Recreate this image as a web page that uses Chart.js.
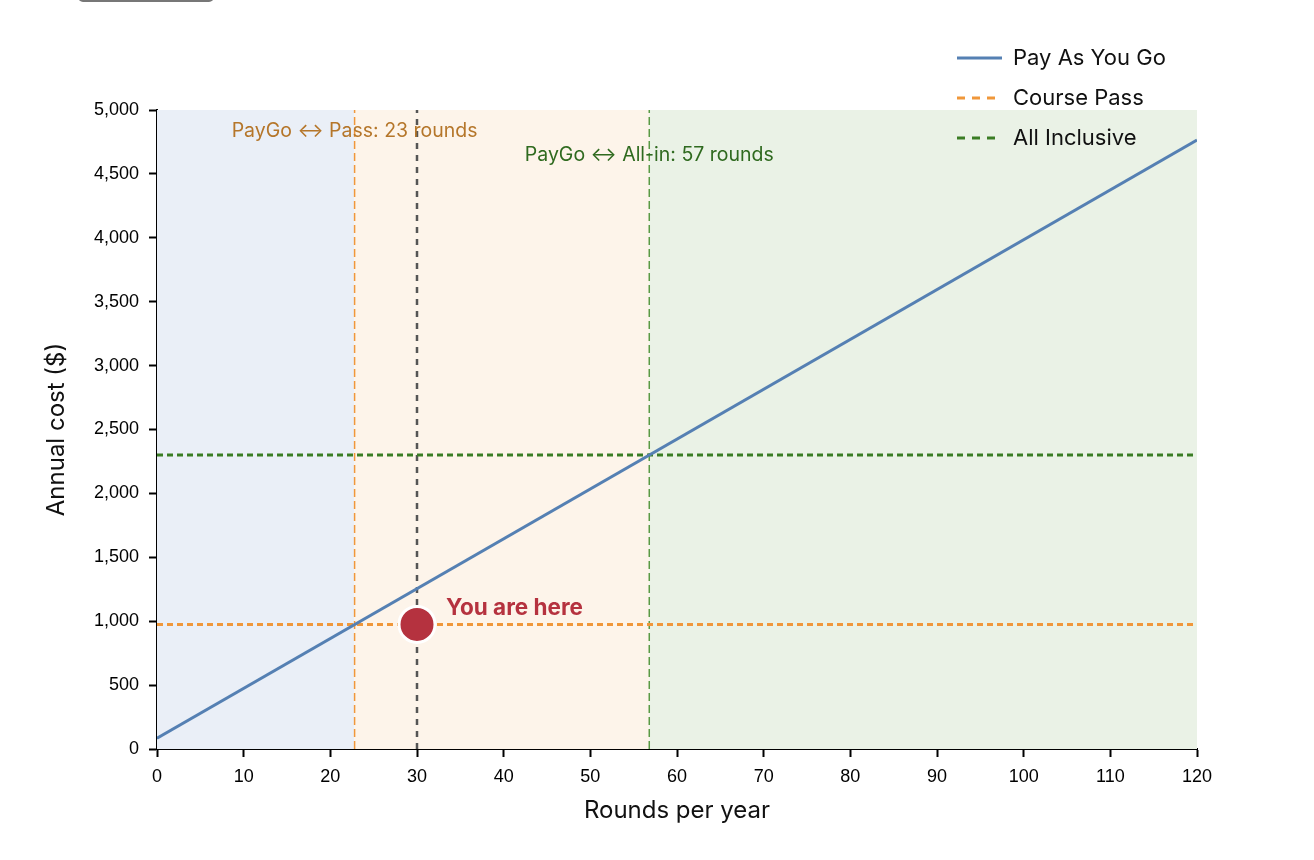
<!DOCTYPE html>
<html>
<head>
<meta charset="utf-8">
<script src="https://cdn.jsdelivr.net/npm/chart.js@4.4.1/dist/chart.umd.min.js"></script>
<style>
    html, body { margin: 0; padding: 0; background: #fff; overflow: hidden; }
    #wrap { position: relative; width: 1314px; height: 860px; }
    #btn { position: absolute; left: 78px; top: -30px; width: 132px; height: 28px;
           border: 2px solid #777; border-radius: 5px; background: #fff; }
</style>
</head>
<body>
<div id="wrap">
    <canvas id="costChart" width="1314" height="860"></canvas>
    <div id="btn"></div>
</div>
<script>
// chart values
const rounds = [0, 120];
const payGoCost = [85, 4765];
const passCost = [975, 975];
const allInCost = [2300, 2300];
const passBreakeven = 22.8;
const allInBreakeven = 56.8;
const youRounds = 30;
const youCost = 975;
const bandEdges = [0, 22.8, 56.8, 120];
const bandColors = ["#eaeff7", "#fdf4ea", "#eaf2e6"];
const xTicks = [0, 10, 20, 30, 40, 50, 60, 70, 80, 90, 100, 110, 120];
const yTicks = [0, 500, 1000, 1500, 2000, 2500, 3000, 3500, 4000, 4500, 5000];
const seriesNames = ["Pay As You Go", "Course Pass", "All Inclusive"];
const passLabel = "PayGo \u2194 Pass: 23 rounds";
const allInLabel = "PayGo \u2194 All-in: 57 rounds";
const youLabel = "You are here";

const BLUE = "#5580b3";
const ORANGE = "#f0973a";
const GREEN = "#3a7d24";
const RED = "#b5323f";

const toPoints = (xs, ys) => xs.map((x, i) => ({ x: x, y: ys[i] }));

const bandsPlugin = {
    id: "bands",
    beforeDatasetsDraw(chart) {
        const { ctx, chartArea, scales } = chart;
        ctx.save();
        for (let i = 0; i < bandColors.length; i++) {
            const x1 = scales.x.getPixelForValue(bandEdges[i]);
            const x2 = scales.x.getPixelForValue(bandEdges[i + 1]);
            ctx.fillStyle = bandColors[i];
            ctx.fillRect(x1, chartArea.top, x2 - x1, chartArea.bottom - chartArea.top);
        }
        ctx.restore();
    }
};

const labelsPlugin = {
    id: "labels",
    afterDatasetsDraw(chart) {
        const { ctx, scales } = chart;
        ctx.save();
        ctx.textBaseline = "middle";
        ctx.textAlign = "center";
        ctx.font = "19.5px Inter";
        ctx.fillStyle = "#b5762a";
        ctx.fillText(passLabel, scales.x.getPixelForValue(passBreakeven), 131);
        ctx.fillStyle = "#2f6a1f";
        ctx.fillText(allInLabel, scales.x.getPixelForValue(allInBreakeven), 155);

        ctx.textAlign = "left";
        ctx.font = "bold 22.5px Inter";
        ctx.fillStyle = RED;
        ctx.fillText(youLabel, scales.x.getPixelForValue(youRounds) + 29, scales.y.getPixelForValue(youCost) - 16);

        // legend
        const styles = [[BLUE, []], [ORANGE, [8, 7]], [GREEN, [8, 7]]];
        ctx.font = "22px Inter";
        seriesNames.forEach((name, i) => {
            const y = 58 + i * 40;
            ctx.strokeStyle = styles[i][0];
            ctx.lineWidth = 3;
            ctx.setLineDash(styles[i][1]);
            ctx.beginPath();
            ctx.moveTo(957, y);
            ctx.lineTo(1002, y);
            ctx.stroke();
            ctx.fillStyle = "#111";
            ctx.fillText(name, 1013, y);
        });
        ctx.restore();
    }
};

new Chart(document.getElementById("costChart"), {
    type: "scatter",
    data: {
        datasets: [
            {
                label: youLabel,
                data: [{ x: youRounds, y: youCost }],
                pointRadius: 18,
                pointBackgroundColor: RED,
                pointBorderColor: "#fff",
                pointBorderWidth: 3,
                order: 0
            },
            {
                label: seriesNames[0],
                data: toPoints(rounds, payGoCost),
                showLine: true,
                borderColor: BLUE,
                borderWidth: 3,
                pointRadius: 0,
                order: 1
            },
            {
                label: seriesNames[1],
                data: toPoints(rounds, passCost),
                showLine: true,
                borderColor: ORANGE,
                borderWidth: 3,
                borderDash: [6, 4],
                pointRadius: 0,
                order: 2
            },
            {
                label: seriesNames[2],
                data: toPoints(rounds, allInCost),
                showLine: true,
                borderColor: GREEN,
                borderWidth: 3,
                borderDash: [6, 4],
                pointRadius: 0,
                order: 2
            },
            {
                label: "you-line",
                data: [{ x: youRounds, y: 0 }, { x: youRounds, y: 5000 }],
                showLine: true,
                borderColor: "#555",
                borderWidth: 2.5,
                borderDash: [6, 6],
                pointRadius: 0,
                order: 3
            },
            {
                label: "pass-breakeven",
                data: [{ x: passBreakeven, y: 0 }, { x: passBreakeven, y: 5000 }],
                showLine: true,
                borderColor: ORANGE,
                borderWidth: 1.5,
                borderDash: [8, 4],
                pointRadius: 0,
                order: 4
            },
            {
                label: "allin-breakeven",
                data: [{ x: allInBreakeven, y: 0 }, { x: allInBreakeven, y: 5000 }],
                showLine: true,
                borderColor: "#5a9a45",
                borderWidth: 1.5,
                borderDash: [8, 4],
                pointRadius: 0,
                order: 4
            }
        ]
    },
    options: {
        responsive: false,
        animation: false,
        layout: { padding: { top: 110, right: 117, left: 0, bottom: 0 } },
        plugins: {
            legend: { display: false },
            tooltip: { enabled: false }
        },
        scales: {
            x: {
                type: "linear",
                min: 0,
                max: 120,
                afterFit: s => { s.height = 111; },
                afterBuildTicks: s => { s.ticks = xTicks.map(v => ({ value: v })); },
                grid: { drawOnChartArea: false, color: "#000", tickLength: 8, tickWidth: 2 },
                border: { color: "#000", width: 2 },
                ticks: { color: "#000", font: { family: "Liberation Sans", size: 18 }, padding: 9 },
                title: {
                    display: true,
                    text: "Rounds per year",
                    color: "#111",
                    font: { family: "Inter", size: 24 },
                    padding: { top: 0, bottom: 35 }
                }
            },
            y: {
                min: 0,
                max: 5000,
                afterFit: s => { s.width = 157; },
                afterBuildTicks: s => { s.ticks = yTicks.map(v => ({ value: v })); },
                grid: { drawOnChartArea: false, color: "#000", tickLength: 8, tickWidth: 2 },
                border: { color: "#000", width: 2 },
                ticks: {
                    color: "#000",
                    font: { family: "Liberation Sans", size: 18 },
                    padding: 10,
                    callback: v => v.toLocaleString("en-US")
                },
                title: {
                    display: true,
                    text: "Annual cost ($)",
                    color: "#111",
                    font: { family: "Inter", size: 24 },
                    padding: { top: 42, bottom: 0 }
                }
            }
        }
    },
    plugins: [bandsPlugin, labelsPlugin]
});
</script>
</body>
</html>
